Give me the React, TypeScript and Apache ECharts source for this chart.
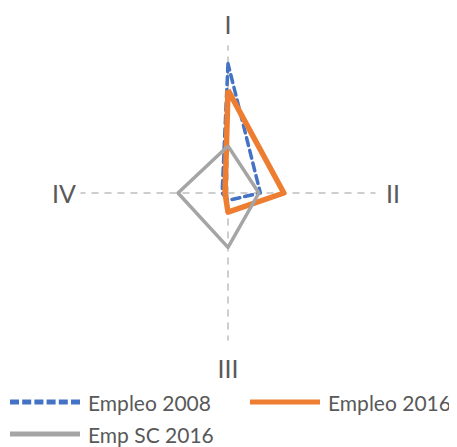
import React, { useEffect, useRef } from "react";
import * as echarts from "echarts";

const axes = ["I", "II", "III", "IV"];
const seriesNames = ["Empleo 2008", "Empleo 2016", "Emp SC 2016"];
const empleo2008 = [0.88, 0.22, 0.05, 0.04];
const empleo2016 = [0.7, 0.38, 0.13, 0.02];
const empSC2016 = [0.32, 0.21, 0.37, 0.34];
const axisMax = 1;

// ECharts places indicators counterclockwise: top, left, bottom, right
const order = [0, 3, 2, 1];

export default function App() {
  const ref = useRef<HTMLDivElement>(null);
  useEffect(() => {
    if (!ref.current) return;
    const chart = echarts.init(ref.current, null, { renderer: "svg" });
    const reorder = (arr: number[]) => order.map((i) => arr[i]);
    const font = "Lato";
    const dashPath =
      "path://M0,0H9V5H0Z M12.2,0H21.2V5H12.2Z M24.4,0H33.4V5H24.4Z M36.6,0H45.6V5H36.6Z M48.8,0H57.8V5H48.8Z M61,0H70V5H61Z";
    const solidPath = "path://M0,0H70V5H0Z";
    chart.setOption({
      animation: false,
      legend: {
        left: 2,
        top: 383,
        width: 480,
        padding: 0,
        itemWidth: 70,
        itemHeight: 5,
        itemGap: 10,
        selectedMode: false,
        data: [
          { name: seriesNames[0], icon: dashPath, itemStyle: { color: "#4472C4" } },
          { name: seriesNames[1], icon: solidPath, itemStyle: { color: "#ED7D31" } },
          { name: seriesNames[2], icon: solidPath, itemStyle: { color: "#A5A5A5" } },
        ],
        textStyle: {
          fontFamily: font,
          fontSize: 21,
          color: "#595959",
          width: 152,
          lineHeight: 22,
          padding: [0, 0, 0, 3],
        },
      },
      radar: {
        center: [220, 185],
        radius: 147,
        startAngle: 90,
        shape: "polygon",
        splitNumber: 1,
        nameGap: 5,
        indicator: order.map((i) => ({ name: axes[i], min: 0, max: axisMax })),
        axisName: {
          color: "#595959",
          fontFamily: font,
          fontSize: 25,
          formatter: (name: string) => `{${name === "I" ? "a" : name === "II" ? "b" : name === "III" ? "c" : "d"}|${name}}`,
          rich: {
            a: { padding: [0, 0, 12, 0], fontSize: 25, lineHeight: 22, fontFamily: font, color: "#595959" },
            b: { padding: [0, 0, 0, 6], fontSize: 25, fontFamily: font, color: "#595959" },
            c: { padding: [10, 0, 0, 0], fontSize: 25, fontFamily: font, color: "#595959" },
            d: { padding: [0, 0, 0, 0], fontSize: 25, fontFamily: font, color: "#595959" },
          },
        },
        axisLine: { lineStyle: { color: "#BFBFBF", width: 1.5, type: [6, 7] } },
        axisTick: { show: false },
        splitLine: { show: false },
        splitArea: { show: false },
      },
      series: [
        {
          type: "radar",
          symbol: "none",
          data: [
            {
              name: seriesNames[0],
              value: reorder(empleo2008),
              lineStyle: { color: "#4472C4", width: 3.5, type: [8, 5], cap: "round" },
              itemStyle: { color: "#4472C4" },
            },
            {
              name: seriesNames[1],
              value: reorder(empleo2016),
              lineStyle: { color: "#ED7D31", width: 5.5, type: "solid" },
              itemStyle: { color: "#ED7D31" },
            },
            {
              name: seriesNames[2],
              value: reorder(empSC2016),
              lineStyle: { color: "#A5A5A5", width: 3.5, type: "solid" },
              itemStyle: { color: "#A5A5A5" },
            },
          ],
        },
      ],
    });
    return () => chart.dispose();
  }, []);
  return <div ref={ref} style={{ width: 449, height: 439 }} />;
}
